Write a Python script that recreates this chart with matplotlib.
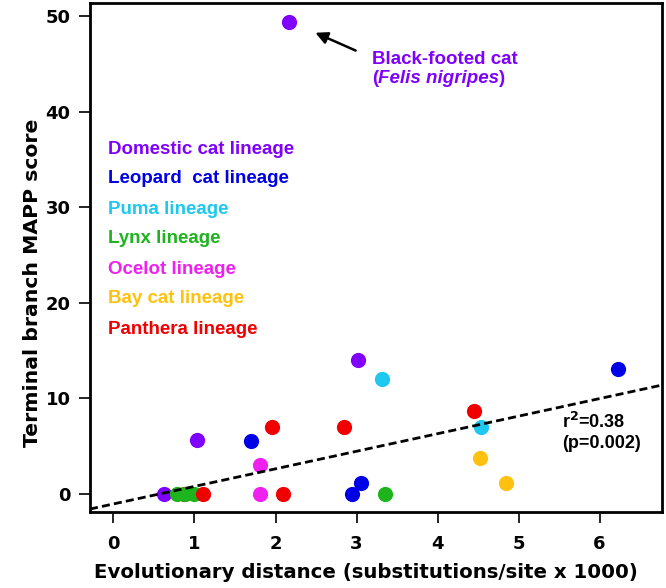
import matplotlib
matplotlib.use("Agg")
import matplotlib.pyplot as plt

plt.rcParams['font.family'] = ['DejaVu Sans']
ANN_FONT = ['Liberation Sans', 'DejaVu Sans']

# Lineage definitions
lineages = ["Domestic cat lineage", "Leopard  cat lineage", "Puma lineage",
            "Lynx lineage", "Ocelot lineage", "Bay cat lineage", "Panthera lineage"]
colors = ["#7F00FF", "#0000E6", "#1EC8F0", "#1EB41E", "#F020F0", "#FFC10F", "#F00000"]

# Points: (evolutionary distance, MAPP score) per lineage
domestic_x = [2.17, 3.02, 1.03, 0.62]
domestic_y = [49.4, 14.0, 5.6, 0.0]
leopard_x = [6.23, 1.70, 3.05, 2.95]
leopard_y = [13.0, 5.5, 1.15, 0.0]
puma_x = [3.31, 4.53]
puma_y = [12.0, 6.94]
panthera_x = [1.96, 2.85, 4.45, 2.09, 0.87, 1.11]
panthera_y = [6.95, 6.95, 8.65, 0.0, 0.0, 0.0]
lynx_x = [0.78, 0.88, 0.99, 3.35]
lynx_y = [0.0, 0.0, 0.0, 0.0]
ocelot_x = [1.81, 1.81]
ocelot_y = [3.0, 0.0]
baycat_x = [4.52, 4.84]
baycat_y = [3.73, 1.08]

x_ticks = [0, 1, 2, 3, 4, 5, 6]
y_ticks = [0, 10, 20, 30, 40, 50]

# Regression line
fit_intercept = -1.09
fit_slope = 1.84

fig = plt.figure(figsize=(6.66, 5.88), dpi=100)
ax = fig.add_axes([0.1351, 0.1298, 0.994 - 0.1351, 0.9949 - 0.1298])

ms = 120
groups = [(panthera_x[:-1], panthera_y[:-1], 6), (domestic_x, domestic_y, 0),
          (leopard_x, leopard_y, 1), (puma_x, puma_y, 2), (lynx_x, lynx_y, 3),
          (ocelot_x, ocelot_y, 4), (baycat_x, baycat_y, 5),
          (panthera_x[-1:], panthera_y[-1:], 6)]
for gx, gy, ci in groups:
    ax.scatter(gx, gy, s=ms, color=colors[ci], lw=0, zorder=3)

ax.set_xlim(-0.29, 6.77)
ax.set_ylim(-1.9, 51.4)
ax.axline((0, fit_intercept), slope=fit_slope, color="black", lw=2,
          ls=(0, (2.9, 1.5)), zorder=4)

# Legend as coloured text
leg_y = [36.1, 33.0, 29.8, 26.7, 23.5, 20.4, 17.2]
for name, c, yy in zip(lineages, colors, leg_y):
    ax.text(-0.07, yy, name, color=c, fontsize=13.5, fontweight="bold",
            family=ANN_FONT, ha="left", va="center")

# Annotation
ax.annotate("", xy=(2.46, 48.4), xytext=(3.02, 46.3),
            arrowprops=dict(arrowstyle="-|>", color="black", lw=1.8,
                            mutation_scale=18))
ax.text(3.19, 45.5, "Black-footed cat", color=colors[0], fontsize=13.5,
        fontweight="bold", family=ANN_FONT, ha="left", va="center")
p1 = ax.text(3.19, 43.5, "(", color=colors[0], fontsize=13.5, fontweight="bold",
             family=ANN_FONT, ha="left", va="center")
p2 = ax.annotate("Felis nigripes", xy=(1, 0.5), xycoords=p1,
                 va="center", ha="left", color=colors[0], fontsize=13.5,
                 fontweight="bold", fontstyle="italic", family=ANN_FONT)
ax.annotate(")", xy=(1, 0.5), xycoords=p2, va="center", ha="left",
            color=colors[0], fontsize=13.5, fontweight="bold", family=ANN_FONT)

ax.text(5.54, 7.47, "r$^{\\mathbf{2}}$=0.38", fontsize=13, fontweight="bold",
        family=ANN_FONT, ha="left", va="center")
ax.text(5.54, 5.24, "(p=0.002)", fontsize=13, fontweight="bold",
        family=ANN_FONT, ha="left", va="center")

ax.set_xticks(x_ticks)
ax.set_yticks(y_ticks)
ax.tick_params(axis="both", direction="out", length=8, width=1.2,
               labelsize=13)
ax.tick_params(axis="x", pad=9)
ax.tick_params(axis="y", pad=6)
for lab in ax.get_xticklabels() + ax.get_yticklabels():
    lab.set_fontweight("bold")
for sp in ax.spines.values():
    sp.set_linewidth(2)

ax.set_xlabel("Evolutionary distance (substitutions/site x 1000)",
              fontsize=14.2, fontweight="bold")
ax.xaxis.set_label_coords(0.4825, -0.100)
ax.set_ylabel("Terminal branch MAPP score", fontsize=14.7, fontweight="bold")
ax.yaxis.set_label_coords(-0.084, 0.45)

fig.savefig("out.png", dpi=100)
